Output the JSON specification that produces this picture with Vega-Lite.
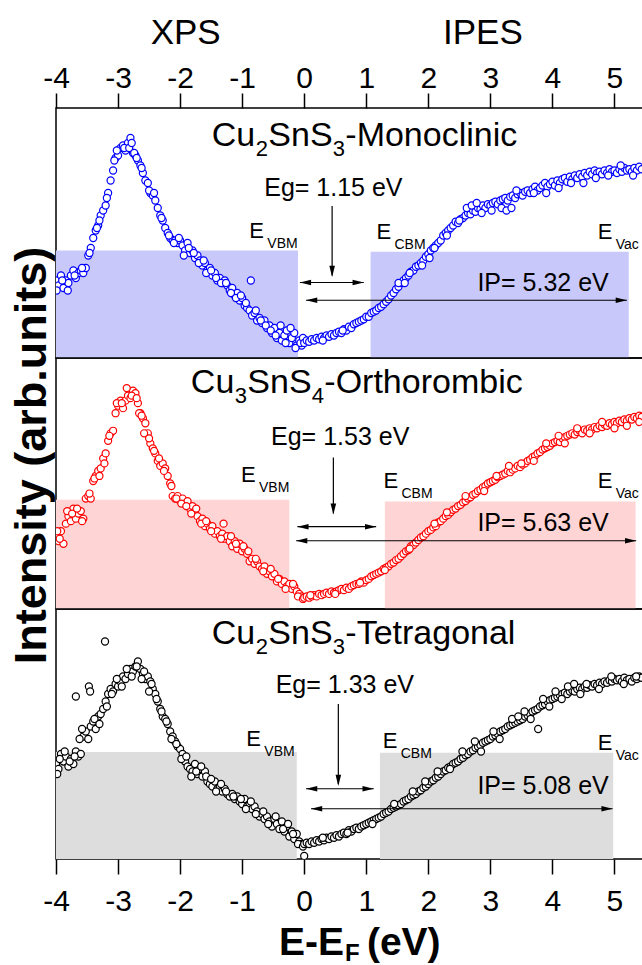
{
"$schema":"https://vega.github.io/schema/vega-lite/v6.json",
"padding":{"left":8,"top":15,"right":0,"bottom":0},
"spacing":0,
"bounds":"flush",
"config":{"font":"Liberation Sans","view":{"stroke":"black","strokeWidth":1.5},"axis":{"grid":false,"domain":false,"labelColor":"black","tickColor":"black","titleColor":"black","tickWidth":1.5},"text":{"color":"black"}},
"datasets":{
"rects":[{"p":1,"x":-4,"x2":-0.1,"y":0,"y2":0.43},{"p":1,"x":1.07,"x2":5.23,"y":0,"y2":0.425},{"p":2,"x":-4,"x2":-0.24,"y":0,"y2":0.435},{"p":2,"x":1.3,"x2":5.34,"y":0,"y2":0.428},{"p":3,"x":-4,"x2":-0.12,"y":0,"y2":0.428},{"p":3,"x":1.22,"x2":4.98,"y":0,"y2":0.425}],
"arrows":[{"p":1,"x":0.45,"x2":0.45,"y":0.608,"y2":0.33},{"p":1,"x":-0.07,"x2":0.96,"y":0.302,"y2":0.302},{"p":1,"x":0.03,"x2":5.2,"y":0.231,"y2":0.231},{"p":2,"x":0.47,"x2":0.47,"y":0.604,"y2":0.38},{"p":2,"x":-0.11,"x2":1.16,"y":0.328,"y2":0.328},{"p":2,"x":-0.13,"x2":5.35,"y":0.272,"y2":0.272},{"p":3,"x":0.55,"x2":0.55,"y":0.62,"y2":0.3},{"p":3,"x":0.03,"x2":1.12,"y":0.281,"y2":0.281},{"p":3,"x":0.11,"x2":4.97,"y":0.201,"y2":0.201}],
"heads":[{"p":1,"x":0.45,"y":0.324,"d":"D"},{"p":1,"x":-0.07,"y":0.302,"d":"L"},{"p":1,"x":0.96,"y":0.302,"d":"R"},{"p":1,"x":0.03,"y":0.231,"d":"L"},{"p":1,"x":5.2,"y":0.231,"d":"R"},{"p":2,"x":0.47,"y":0.376,"d":"D"},{"p":2,"x":-0.11,"y":0.328,"d":"L"},{"p":2,"x":1.16,"y":0.328,"d":"R"},{"p":2,"x":-0.13,"y":0.272,"d":"L"},{"p":2,"x":5.35,"y":0.272,"d":"R"},{"p":3,"x":0.55,"y":0.292,"d":"D"},{"p":3,"x":0.03,"y":0.281,"d":"L"},{"p":3,"x":1.12,"y":0.281,"d":"R"},{"p":3,"x":0.11,"y":0.201,"d":"L"},{"p":3,"x":4.97,"y":0.201,"d":"R"}],
"elab":[{"p":1,"x":-0.884,"y":0.481,"s":"VBM"},{"p":1,"x":1.165,"y":0.478,"s":"CBM"},{"p":1,"x":4.729,"y":0.478,"s":"Vac"},{"p":2,"x":-1.018,"y":0.505,"s":"VBM"},{"p":2,"x":1.277,"y":0.481,"s":"CBM"},{"p":2,"x":4.729,"y":0.481,"s":"Vac"},{"p":3,"x":-0.932,"y":0.452,"s":"VBM"},{"p":3,"x":1.266,"y":0.445,"s":"CBM"},{"p":3,"x":4.729,"y":0.436,"s":"Vac"}],
"ttl":[{"p":1,"x":-1.489,"y":0.848,"a":"Cu","s1":"2","b":"SnS","s2":"3","c":"-Monoclinic"},{"p":2,"x":-1.827,"y":0.859,"a":"Cu","s1":"3","b":"SnS","s2":"4","c":"-Orthorombic"},{"p":3,"x":-1.489,"y":0.859,"a":"Cu","s1":"2","b":"SnS","s2":"3","c":"-Tetragonal"}],
"txt":[{"p":1,"k":"n","x":0.47,"y":0.648,"t":"Eg= 1.15 eV"},{"p":1,"k":"n","x":3.85,"y":0.268,"t":"IP= 5.32 eV"},{"p":1,"k":"s","x":-1.91,"y":1.256,"t":"XPS"},{"p":1,"k":"s","x":2.88,"y":1.256,"t":"IPES"},{"p":2,"k":"n","x":0.58,"y":0.652,"t":"Eg= 1.53 eV"},{"p":2,"k":"n","x":3.85,"y":0.309,"t":"IP= 5.63 eV"},{"p":3,"k":"n","x":0.655,"y":0.665,"t":"Eg= 1.33 eV"},{"p":3,"k":"n","x":3.85,"y":0.261,"t":"IP= 5.08 eV"}],
"xt":[{"x":0.64,"y":-0.385}],
"b":[{"x":-4,"y":0.31},{"x":-3.96,"y":0.29},{"x":-3.92,"y":0.33},{"x":-3.88,"y":0.28},{"x":-3.84,"y":0.31},{"x":-3.8,"y":0.3},{"x":-3.76,"y":0.33},{"x":-3.72,"y":0.35},{"x":-3.68,"y":0.32},{"x":-3.64,"y":0.34},{"x":-3.6,"y":0.35},{"x":-3.56,"y":0.34},{"x":-3.52,"y":0.36},{"x":-3.48,"y":0.41},{"x":-3.44,"y":0.44},{"x":-3.4,"y":0.48},{"x":-3.36,"y":0.51},{"x":-3.32,"y":0.53},{"x":-3.28,"y":0.57},{"x":-3.24,"y":0.59},{"x":-3.2,"y":0.61},{"x":-3.16,"y":0.66},{"x":-3.12,"y":0.71},{"x":-3.08,"y":0.75},{"x":-3.04,"y":0.8},{"x":-3,"y":0.81},{"x":-2.96,"y":0.84},{"x":-2.92,"y":0.85},{"x":-2.88,"y":0.83},{"x":-2.84,"y":0.86},{"x":-2.8,"y":0.88},{"x":-2.76,"y":0.82},{"x":-2.72,"y":0.81},{"x":-2.68,"y":0.79},{"x":-2.64,"y":0.77},{"x":-2.6,"y":0.74},{"x":-2.56,"y":0.71},{"x":-2.52,"y":0.7},{"x":-2.48,"y":0.66},{"x":-2.44,"y":0.65},{"x":-2.4,"y":0.63},{"x":-2.36,"y":0.6},{"x":-2.32,"y":0.57},{"x":-2.28,"y":0.55},{"x":-2.24,"y":0.52},{"x":-2.2,"y":0.5},{"x":-2.16,"y":0.48},{"x":-2.12,"y":0.47},{"x":-2.08,"y":0.47},{"x":-2.04,"y":0.46},{"x":-2,"y":0.47},{"x":-1.96,"y":0.45},{"x":-1.92,"y":0.43},{"x":-1.88,"y":0.46},{"x":-1.84,"y":0.42},{"x":-1.8,"y":0.43},{"x":-1.76,"y":0.4},{"x":-1.72,"y":0.41},{"x":-1.68,"y":0.39},{"x":-1.64,"y":0.37},{"x":-1.6,"y":0.38},{"x":-1.56,"y":0.35},{"x":-1.52,"y":0.36},{"x":-1.48,"y":0.33},{"x":-1.44,"y":0.34},{"x":-1.4,"y":0.31},{"x":-1.36,"y":0.32},{"x":-1.32,"y":0.3},{"x":-1.28,"y":0.31},{"x":-1.24,"y":0.29},{"x":-1.2,"y":0.27},{"x":-1.16,"y":0.28},{"x":-1.12,"y":0.25},{"x":-1.08,"y":0.26},{"x":-1.04,"y":0.23},{"x":-1,"y":0.24},{"x":-0.96,"y":0.21},{"x":-0.92,"y":0.2},{"x":-0.88,"y":0.19},{"x":-0.84,"y":0.17},{"x":-0.8,"y":0.18},{"x":-0.76,"y":0.15},{"x":-0.72,"y":0.16},{"x":-0.68,"y":0.14},{"x":-0.64,"y":0.15},{"x":-0.6,"y":0.12},{"x":-0.56,"y":0.13},{"x":-0.52,"y":0.1},{"x":-0.48,"y":0.12},{"x":-0.44,"y":0.08},{"x":-0.4,"y":0.1},{"x":-0.36,"y":0.07},{"x":-0.32,"y":0.09},{"x":-0.28,"y":0.11},{"x":-0.24,"y":0.06},{"x":-0.2,"y":0.08},{"x":-0.16,"y":0.1},{"x":-0.12,"y":0.05},{"x":-0.08,"y":0.07},{"x":-0.04,"y":0.05},
{"x":-3.99,"y":0.27},{"x":-3.9,"y":0.31},{"x":-3.81,"y":0.27},{"x":-3.7,"y":0.33},{"x":-3.58,"y":0.36},{"x":-3.46,"y":0.42},{"x":-3.34,"y":0.52},{"x":-3.3,"y":0.55},{"x":-3.18,"y":0.64},{"x":-3.06,"y":0.79},{"x":-3.02,"y":0.83},{"x":-2.9,"y":0.84},{"x":-2.82,"y":0.84},{"x":-2.78,"y":0.86},{"x":-2.74,"y":0.82},{"x":-2.7,"y":0.8},{"x":-2.62,"y":0.76},{"x":-2.5,"y":0.67},{"x":-2.42,"y":0.66},{"x":-2.3,"y":0.56},{"x":-2.18,"y":0.49},{"x":-2.1,"y":0.46},{"x":-2.02,"y":0.48},{"x":-1.94,"y":0.41},{"x":-1.86,"y":0.44},{"x":-1.78,"y":0.42},{"x":-1.7,"y":0.38},{"x":-1.62,"y":0.39},{"x":-1.58,"y":0.34},{"x":-1.5,"y":0.35},{"x":-1.42,"y":0.32},{"x":-1.34,"y":0.3},{"x":-1.26,"y":0.3},{"x":-1.18,"y":0.26},{"x":-1.1,"y":0.24},{"x":-1.02,"y":0.25},{"x":-0.86,"y":0.31},{"x":-0.94,"y":0.22},{"x":-0.78,"y":0.19},{"x":-0.7,"y":0.15},{"x":-0.62,"y":0.13},{"x":-0.54,"y":0.11},{"x":-0.46,"y":0.09},{"x":-0.38,"y":0.13},{"x":-0.3,"y":0.06},{"x":-0.22,"y":0.12},{"x":-0.14,"y":0.04},{"x":-0.06,"y":0.06},{"x":-0.02,"y":0.08},
{"x":0,"y":0.06},{"x":0.04,"y":0.07},{"x":0.08,"y":0.065},{"x":0.12,"y":0.075},{"x":0.16,"y":0.07},{"x":0.2,"y":0.08},{"x":0.24,"y":0.075},{"x":0.28,"y":0.085},{"x":0.32,"y":0.08},{"x":0.36,"y":0.09},{"x":0.4,"y":0.085},{"x":0.44,"y":0.095},{"x":0.48,"y":0.09},{"x":0.52,"y":0.1},{"x":0.56,"y":0.105},{"x":0.6,"y":0.1},{"x":0.64,"y":0.115},{"x":0.68,"y":0.11},{"x":0.72,"y":0.125},{"x":0.76,"y":0.12},{"x":0.8,"y":0.135},{"x":0.84,"y":0.14},{"x":0.88,"y":0.145},{"x":0.92,"y":0.15},{"x":0.96,"y":0.155},{"x":1,"y":0.165},{"x":1.04,"y":0.165},{"x":1.08,"y":0.18},{"x":1.12,"y":0.185},{"x":1.16,"y":0.19},{"x":1.2,"y":0.2},{"x":1.24,"y":0.205},{"x":1.28,"y":0.215},{"x":1.32,"y":0.225},{"x":1.36,"y":0.235},{"x":1.4,"y":0.25},{"x":1.44,"y":0.26},{"x":1.48,"y":0.275},{"x":1.52,"y":0.285},{"x":1.56,"y":0.3},{"x":1.6,"y":0.31},{"x":1.64,"y":0.32},{"x":1.68,"y":0.33},{"x":1.72,"y":0.345},{"x":1.76,"y":0.35},{"x":1.8,"y":0.365},{"x":1.84,"y":0.37},{"x":1.88,"y":0.38},{"x":1.92,"y":0.39},{"x":1.96,"y":0.405},{"x":2,"y":0.415},{"x":2.04,"y":0.43},{"x":2.08,"y":0.44},{"x":2.12,"y":0.45},{"x":2.16,"y":0.46},{"x":2.2,"y":0.47},{"x":2.24,"y":0.49},{"x":2.28,"y":0.5},{"x":2.32,"y":0.51},{"x":2.36,"y":0.52},{"x":2.4,"y":0.53},{"x":2.44,"y":0.545},{"x":2.48,"y":0.54},{"x":2.52,"y":0.555},{"x":2.56,"y":0.56},{"x":2.6,"y":0.57},{"x":2.64,"y":0.58},{"x":2.68,"y":0.575},{"x":2.72,"y":0.59},{"x":2.76,"y":0.585},{"x":2.8,"y":0.6},{"x":2.84,"y":0.595},{"x":2.88,"y":0.61},{"x":2.92,"y":0.6},{"x":2.96,"y":0.615},{"x":3,"y":0.61},{"x":3.04,"y":0.62},{"x":3.08,"y":0.625},{"x":3.12,"y":0.615},{"x":3.16,"y":0.63},{"x":3.2,"y":0.635},{"x":3.24,"y":0.64},{"x":3.28,"y":0.63},{"x":3.32,"y":0.645},{"x":3.36,"y":0.65},{"x":3.4,"y":0.64},{"x":3.44,"y":0.655},{"x":3.48,"y":0.66},{"x":3.52,"y":0.65},{"x":3.56,"y":0.665},{"x":3.6,"y":0.67},{"x":3.64,"y":0.66},{"x":3.68,"y":0.675},{"x":3.72,"y":0.685},{"x":3.76,"y":0.67},{"x":3.8,"y":0.68},{"x":3.84,"y":0.69},{"x":3.88,"y":0.7},{"x":3.92,"y":0.685},{"x":3.96,"y":0.695},{"x":4,"y":0.705},{"x":4.04,"y":0.69},{"x":4.08,"y":0.71},{"x":4.12,"y":0.7},{"x":4.16,"y":0.715},{"x":4.2,"y":0.72},{"x":4.24,"y":0.705},{"x":4.28,"y":0.725},{"x":4.32,"y":0.715},{"x":4.36,"y":0.73},{"x":4.4,"y":0.72},{"x":4.44,"y":0.735},{"x":4.48,"y":0.725},{"x":4.52,"y":0.74},{"x":4.56,"y":0.73},{"x":4.6,"y":0.745},{"x":4.64,"y":0.735},{"x":4.68,"y":0.75},{"x":4.72,"y":0.74},{"x":4.76,"y":0.745},{"x":4.8,"y":0.735},{"x":4.84,"y":0.75},{"x":4.88,"y":0.74},{"x":4.92,"y":0.755},{"x":4.96,"y":0.745},{"x":5,"y":0.75},{"x":5.04,"y":0.74},{"x":5.08,"y":0.755},{"x":5.12,"y":0.745},{"x":5.16,"y":0.76},{"x":5.2,"y":0.75},{"x":5.24,"y":0.755},{"x":5.28,"y":0.745},{"x":5.32,"y":0.76},{"x":5.36,"y":0.75},{"x":5.4,"y":0.765},{"x":5.44,"y":0.755},
{"x":2.62,"y":0.6},{"x":2.7,"y":0.61},{"x":2.78,"y":0.62},{"x":2.86,"y":0.58},{"x":3.02,"y":0.59},{"x":3.18,"y":0.6},{"x":3.26,"y":0.59},{"x":3.34,"y":0.6},{"x":3.42,"y":0.67},{"x":3.7,"y":0.66},{"x":3.9,"y":0.66},{"x":4.1,"y":0.68},{"x":4.3,"y":0.7},{"x":4.5,"y":0.7},{"x":4.7,"y":0.72},{"x":4.9,"y":0.73},{"x":5.1,"y":0.77},{"x":5.3,"y":0.73},{"x":1.52,"y":0.3},{"x":1.62,"y":0.3},{"x":1.7,"y":0.34},{"x":1.9,"y":0.37},{"x":2.1,"y":0.44},{"x":2.3,"y":0.49},{"x":2.5,"y":0.55},{"x":2.02,"y":0.4},{"x":0.3,"y":0.07},{"x":0.62,"y":0.11}],
"r":[{"x":-4,"y":0.29},{"x":-3.96,"y":0.27},{"x":-3.92,"y":0.31},{"x":-3.88,"y":0.26},{"x":-3.84,"y":0.34},{"x":-3.8,"y":0.37},{"x":-3.76,"y":0.35},{"x":-3.72,"y":0.4},{"x":-3.68,"y":0.36},{"x":-3.64,"y":0.38},{"x":-3.6,"y":0.39},{"x":-3.56,"y":0.36},{"x":-3.52,"y":0.44},{"x":-3.48,"y":0.45},{"x":-3.44,"y":0.44},{"x":-3.4,"y":0.51},{"x":-3.36,"y":0.53},{"x":-3.32,"y":0.55},{"x":-3.28,"y":0.56},{"x":-3.24,"y":0.6},{"x":-3.2,"y":0.62},{"x":-3.16,"y":0.67},{"x":-3.12,"y":0.7},{"x":-3.08,"y":0.71},{"x":-3.04,"y":0.78},{"x":-3,"y":0.81},{"x":-2.96,"y":0.83},{"x":-2.92,"y":0.8},{"x":-2.88,"y":0.83},{"x":-2.84,"y":0.85},{"x":-2.8,"y":0.84},{"x":-2.76,"y":0.87},{"x":-2.72,"y":0.86},{"x":-2.68,"y":0.82},{"x":-2.64,"y":0.78},{"x":-2.6,"y":0.76},{"x":-2.56,"y":0.74},{"x":-2.52,"y":0.7},{"x":-2.48,"y":0.66},{"x":-2.44,"y":0.64},{"x":-2.4,"y":0.62},{"x":-2.36,"y":0.59},{"x":-2.32,"y":0.57},{"x":-2.28,"y":0.58},{"x":-2.24,"y":0.56},{"x":-2.2,"y":0.53},{"x":-2.16,"y":0.5},{"x":-2.12,"y":0.45},{"x":-2.08,"y":0.44},{"x":-2.04,"y":0.45},{"x":-2,"y":0.43},{"x":-1.96,"y":0.44},{"x":-1.92,"y":0.42},{"x":-1.88,"y":0.43},{"x":-1.84,"y":0.4},{"x":-1.8,"y":0.41},{"x":-1.76,"y":0.39},{"x":-1.72,"y":0.37},{"x":-1.68,"y":0.35},{"x":-1.64,"y":0.36},{"x":-1.6,"y":0.33},{"x":-1.56,"y":0.34},{"x":-1.52,"y":0.32},{"x":-1.48,"y":0.33},{"x":-1.44,"y":0.3},{"x":-1.4,"y":0.31},{"x":-1.36,"y":0.29},{"x":-1.32,"y":0.3},{"x":-1.28,"y":0.28},{"x":-1.24,"y":0.29},{"x":-1.2,"y":0.27},{"x":-1.16,"y":0.25},{"x":-1.12,"y":0.27},{"x":-1.08,"y":0.24},{"x":-1.04,"y":0.26},{"x":-1,"y":0.23},{"x":-0.96,"y":0.24},{"x":-0.92,"y":0.22},{"x":-0.88,"y":0.19},{"x":-0.84,"y":0.2},{"x":-0.8,"y":0.18},{"x":-0.76,"y":0.19},{"x":-0.72,"y":0.17},{"x":-0.68,"y":0.16},{"x":-0.64,"y":0.17},{"x":-0.6,"y":0.14},{"x":-0.56,"y":0.15},{"x":-0.52,"y":0.13},{"x":-0.48,"y":0.14},{"x":-0.44,"y":0.11},{"x":-0.4,"y":0.12},{"x":-0.36,"y":0.1},{"x":-0.32,"y":0.11},{"x":-0.28,"y":0.09},{"x":-0.24,"y":0.1},{"x":-0.2,"y":0.08},{"x":-0.16,"y":0.09},{"x":-0.12,"y":0.07},{"x":-0.08,"y":0.06},{"x":-0.04,"y":0.05},
{"x":-3.98,"y":0.31},{"x":-3.94,"y":0.28},{"x":-3.82,"y":0.39},{"x":-3.74,"y":0.38},{"x":-3.66,"y":0.4},{"x":-3.58,"y":0.35},{"x":-3.46,"y":0.46},{"x":-3.38,"y":0.52},{"x":-3.3,"y":0.53},{"x":-3.22,"y":0.58},{"x":-3.14,"y":0.69},{"x":-3.02,"y":0.82},{"x":-2.94,"y":0.82},{"x":-2.86,"y":0.88},{"x":-2.78,"y":0.85},{"x":-2.7,"y":0.84},{"x":-2.66,"y":0.78},{"x":-2.62,"y":0.77},{"x":-2.58,"y":0.7},{"x":-2.5,"y":0.68},{"x":-2.42,"y":0.63},{"x":-2.34,"y":0.6},{"x":-2.26,"y":0.55},{"x":-2.14,"y":0.49},{"x":-2.06,"y":0.44},{"x":-1.98,"y":0.42},{"x":-1.9,"y":0.41},{"x":-1.82,"y":0.38},{"x":-1.74,"y":0.4},{"x":-1.66,"y":0.34},{"x":-1.58,"y":0.35},{"x":-1.5,"y":0.31},{"x":-1.34,"y":0.28},{"x":-1.3,"y":0.34},{"x":-1.18,"y":0.29},{"x":-1.1,"y":0.26},{"x":-0.98,"y":0.25},{"x":-0.9,"y":0.23},{"x":-0.78,"y":0.2},{"x":-0.66,"y":0.15},{"x":-0.54,"y":0.16},{"x":-0.42,"y":0.12},{"x":-0.3,"y":0.08},{"x":-0.18,"y":0.1},{"x":-0.1,"y":0.05},{"x":-0.02,"y":0.04},
{"x":0,"y":0.045},{"x":0.04,"y":0.05},{"x":0.08,"y":0.045},{"x":0.12,"y":0.05},{"x":0.16,"y":0.055},{"x":0.2,"y":0.05},{"x":0.24,"y":0.06},{"x":0.28,"y":0.055},{"x":0.32,"y":0.06},{"x":0.36,"y":0.065},{"x":0.4,"y":0.06},{"x":0.44,"y":0.07},{"x":0.48,"y":0.065},{"x":0.52,"y":0.07},{"x":0.56,"y":0.075},{"x":0.6,"y":0.08},{"x":0.64,"y":0.075},{"x":0.68,"y":0.085},{"x":0.72,"y":0.08},{"x":0.76,"y":0.09},{"x":0.8,"y":0.095},{"x":0.84,"y":0.1},{"x":0.88,"y":0.1},{"x":0.92,"y":0.11},{"x":0.96,"y":0.105},{"x":1,"y":0.115},{"x":1.04,"y":0.12},{"x":1.08,"y":0.13},{"x":1.12,"y":0.135},{"x":1.16,"y":0.14},{"x":1.2,"y":0.145},{"x":1.24,"y":0.15},{"x":1.28,"y":0.16},{"x":1.32,"y":0.165},{"x":1.36,"y":0.17},{"x":1.4,"y":0.18},{"x":1.44,"y":0.185},{"x":1.48,"y":0.195},{"x":1.52,"y":0.2},{"x":1.56,"y":0.21},{"x":1.6,"y":0.22},{"x":1.64,"y":0.23},{"x":1.68,"y":0.235},{"x":1.72,"y":0.25},{"x":1.76,"y":0.255},{"x":1.8,"y":0.265},{"x":1.84,"y":0.275},{"x":1.88,"y":0.285},{"x":1.92,"y":0.29},{"x":1.96,"y":0.3},{"x":2,"y":0.31},{"x":2.04,"y":0.315},{"x":2.08,"y":0.325},{"x":2.12,"y":0.33},{"x":2.16,"y":0.345},{"x":2.2,"y":0.35},{"x":2.24,"y":0.36},{"x":2.28,"y":0.37},{"x":2.32,"y":0.375},{"x":2.36,"y":0.385},{"x":2.4,"y":0.395},{"x":2.44,"y":0.4},{"x":2.48,"y":0.41},{"x":2.52,"y":0.415},{"x":2.56,"y":0.425},{"x":2.6,"y":0.43},{"x":2.64,"y":0.44},{"x":2.68,"y":0.445},{"x":2.72,"y":0.455},{"x":2.76,"y":0.46},{"x":2.8,"y":0.47},{"x":2.84,"y":0.475},{"x":2.88,"y":0.485},{"x":2.92,"y":0.49},{"x":2.96,"y":0.5},{"x":3,"y":0.505},{"x":3.04,"y":0.51},{"x":3.08,"y":0.515},{"x":3.12,"y":0.525},{"x":3.16,"y":0.53},{"x":3.2,"y":0.535},{"x":3.24,"y":0.54},{"x":3.28,"y":0.55},{"x":3.32,"y":0.545},{"x":3.36,"y":0.555},{"x":3.4,"y":0.56},{"x":3.44,"y":0.57},{"x":3.48,"y":0.565},{"x":3.52,"y":0.575},{"x":3.56,"y":0.58},{"x":3.6,"y":0.59},{"x":3.64,"y":0.595},{"x":3.68,"y":0.605},{"x":3.72,"y":0.61},{"x":3.76,"y":0.62},{"x":3.8,"y":0.625},{"x":3.84,"y":0.635},{"x":3.88,"y":0.64},{"x":3.92,"y":0.645},{"x":3.96,"y":0.65},{"x":4,"y":0.66},{"x":4.04,"y":0.665},{"x":4.08,"y":0.67},{"x":4.12,"y":0.665},{"x":4.16,"y":0.68},{"x":4.2,"y":0.685},{"x":4.24,"y":0.69},{"x":4.28,"y":0.695},{"x":4.32,"y":0.7},{"x":4.36,"y":0.695},{"x":4.4,"y":0.705},{"x":4.44,"y":0.71},{"x":4.48,"y":0.7},{"x":4.52,"y":0.715},{"x":4.56,"y":0.71},{"x":4.6,"y":0.72},{"x":4.64,"y":0.715},{"x":4.68,"y":0.725},{"x":4.72,"y":0.72},{"x":4.76,"y":0.73},{"x":4.8,"y":0.725},{"x":4.84,"y":0.735},{"x":4.88,"y":0.73},{"x":4.92,"y":0.74},{"x":4.96,"y":0.735},{"x":5,"y":0.745},{"x":5.04,"y":0.74},{"x":5.08,"y":0.75},{"x":5.12,"y":0.745},{"x":5.16,"y":0.755},{"x":5.2,"y":0.75},{"x":5.24,"y":0.76},{"x":5.28,"y":0.755},{"x":5.32,"y":0.765},{"x":5.36,"y":0.76},{"x":5.4,"y":0.77},{"x":5.44,"y":0.765},
{"x":2.6,"y":0.45},{"x":2.9,"y":0.47},{"x":3.1,"y":0.53},{"x":3.3,"y":0.57},{"x":3.5,"y":0.58},{"x":3.7,"y":0.59},{"x":3.9,"y":0.66},{"x":4.1,"y":0.69},{"x":4.2,"y":0.66},{"x":4.4,"y":0.72},{"x":4.6,"y":0.7},{"x":4.8,"y":0.745},{"x":5,"y":0.72},{"x":5.2,"y":0.73},{"x":5.4,"y":0.745},{"x":1.7,"y":0.24},{"x":2.1,"y":0.34},{"x":2.3,"y":0.385},{"x":1.3,"y":0.155},{"x":0.9,"y":0.105},{"x":0.5,"y":0.06},{"x":0.1,"y":0.055}],
"k":[{"x":-4,"y":0.38},{"x":-3.96,"y":0.36},{"x":-3.92,"y":0.42},{"x":-3.88,"y":0.39},{"x":-3.84,"y":0.41},{"x":-3.8,"y":0.37},{"x":-3.76,"y":0.4},{"x":-3.72,"y":0.38},{"x":-3.68,"y":0.43},{"x":-3.64,"y":0.41},{"x":-3.6,"y":0.42},{"x":-3.56,"y":0.49},{"x":-3.52,"y":0.51},{"x":-3.48,"y":0.48},{"x":-3.44,"y":0.53},{"x":-3.4,"y":0.55},{"x":-3.36,"y":0.52},{"x":-3.32,"y":0.57},{"x":-3.28,"y":0.58},{"x":-3.24,"y":0.6},{"x":-3.2,"y":0.63},{"x":-3.16,"y":0.66},{"x":-3.12,"y":0.68},{"x":-3.08,"y":0.67},{"x":-3.04,"y":0.7},{"x":-3,"y":0.69},{"x":-2.96,"y":0.71},{"x":-2.92,"y":0.73},{"x":-2.88,"y":0.72},{"x":-2.84,"y":0.74},{"x":-2.8,"y":0.76},{"x":-2.76,"y":0.75},{"x":-2.72,"y":0.77},{"x":-2.68,"y":0.79},{"x":-2.64,"y":0.76},{"x":-2.6,"y":0.74},{"x":-2.56,"y":0.72},{"x":-2.52,"y":0.73},{"x":-2.48,"y":0.71},{"x":-2.44,"y":0.68},{"x":-2.4,"y":0.66},{"x":-2.36,"y":0.63},{"x":-2.32,"y":0.6},{"x":-2.28,"y":0.57},{"x":-2.24,"y":0.56},{"x":-2.2,"y":0.54},{"x":-2.16,"y":0.51},{"x":-2.12,"y":0.49},{"x":-2.08,"y":0.47},{"x":-2.04,"y":0.45},{"x":-2,"y":0.44},{"x":-1.96,"y":0.42},{"x":-1.92,"y":0.39},{"x":-1.88,"y":0.37},{"x":-1.84,"y":0.36},{"x":-1.8,"y":0.35},{"x":-1.76,"y":0.38},{"x":-1.72,"y":0.34},{"x":-1.68,"y":0.36},{"x":-1.64,"y":0.33},{"x":-1.6,"y":0.35},{"x":-1.56,"y":0.31},{"x":-1.52,"y":0.3},{"x":-1.48,"y":0.29},{"x":-1.44,"y":0.31},{"x":-1.4,"y":0.28},{"x":-1.36,"y":0.29},{"x":-1.32,"y":0.27},{"x":-1.28,"y":0.28},{"x":-1.24,"y":0.26},{"x":-1.2,"y":0.25},{"x":-1.16,"y":0.26},{"x":-1.12,"y":0.24},{"x":-1.08,"y":0.25},{"x":-1.04,"y":0.23},{"x":-1,"y":0.22},{"x":-0.96,"y":0.24},{"x":-0.92,"y":0.21},{"x":-0.88,"y":0.22},{"x":-0.84,"y":0.2},{"x":-0.8,"y":0.21},{"x":-0.76,"y":0.19},{"x":-0.72,"y":0.17},{"x":-0.68,"y":0.18},{"x":-0.64,"y":0.16},{"x":-0.6,"y":0.17},{"x":-0.56,"y":0.15},{"x":-0.52,"y":0.13},{"x":-0.48,"y":0.16},{"x":-0.44,"y":0.14},{"x":-0.4,"y":0.12},{"x":-0.36,"y":0.15},{"x":-0.32,"y":0.11},{"x":-0.28,"y":0.13},{"x":-0.24,"y":0.09},{"x":-0.2,"y":0.11},{"x":-0.16,"y":0.08},{"x":-0.12,"y":0.1},{"x":-0.08,"y":0.07},{"x":-0.04,"y":0.06},
{"x":-3.98,"y":0.34},{"x":-3.94,"y":0.4},{"x":-3.86,"y":0.43},{"x":-3.78,"y":0.39},{"x":-3.7,"y":0.41},{"x":-3.68,"y":0.65},{"x":-3.62,"y":0.48},{"x":-3.58,"y":0.52},{"x":-3.47,"y":0.69},{"x":-3.45,"y":0.67},{"x":-3.38,"y":0.56},{"x":-3.3,"y":0.54},{"x":-3.21,"y":0.87},{"x":-3.18,"y":0.61},{"x":-3.1,"y":0.66},{"x":-3.02,"y":0.72},{"x":-2.94,"y":0.69},{"x":-2.86,"y":0.76},{"x":-2.78,"y":0.73},{"x":-2.7,"y":0.77},{"x":-2.62,"y":0.72},{"x":-2.58,"y":0.75},{"x":-2.5,"y":0.67},{"x":-2.46,"y":0.7},{"x":-2.38,"y":0.64},{"x":-2.3,"y":0.59},{"x":-2.22,"y":0.55},{"x":-2.14,"y":0.48},{"x":-2.06,"y":0.46},{"x":-1.98,"y":0.4},{"x":-1.9,"y":0.41},{"x":-1.82,"y":0.33},{"x":-1.74,"y":0.35},{"x":-1.66,"y":0.37},{"x":-1.58,"y":0.33},{"x":-1.5,"y":0.32},{"x":-1.42,"y":0.27},{"x":-1.34,"y":0.3},{"x":-1.26,"y":0.27},{"x":-1.14,"y":0.25},{"x":-1.02,"y":0.24},{"x":-0.94,"y":0.2},{"x":-0.86,"y":0.23},{"x":-0.78,"y":0.18},{"x":-0.66,"y":0.19},{"x":-0.58,"y":0.14},{"x":-0.46,"y":0.17},{"x":-0.34,"y":0.12},{"x":-0.26,"y":0.14},{"x":-0.18,"y":0.1},{"x":-0.1,"y":0.06},{"x":-0.02,"y":0.05},{"x":0,"y":0.012},
{"x":0,"y":0.06},{"x":0.04,"y":0.065},{"x":0.08,"y":0.06},{"x":0.12,"y":0.07},{"x":0.16,"y":0.065},{"x":0.2,"y":0.075},{"x":0.24,"y":0.07},{"x":0.28,"y":0.08},{"x":0.32,"y":0.075},{"x":0.36,"y":0.085},{"x":0.4,"y":0.08},{"x":0.44,"y":0.09},{"x":0.48,"y":0.085},{"x":0.52,"y":0.095},{"x":0.56,"y":0.09},{"x":0.6,"y":0.1},{"x":0.64,"y":0.105},{"x":0.68,"y":0.1},{"x":0.72,"y":0.115},{"x":0.76,"y":0.11},{"x":0.8,"y":0.12},{"x":0.84,"y":0.125},{"x":0.88,"y":0.12},{"x":0.92,"y":0.13},{"x":0.96,"y":0.135},{"x":1,"y":0.14},{"x":1.04,"y":0.145},{"x":1.08,"y":0.15},{"x":1.12,"y":0.155},{"x":1.16,"y":0.16},{"x":1.2,"y":0.165},{"x":1.24,"y":0.17},{"x":1.28,"y":0.18},{"x":1.32,"y":0.185},{"x":1.36,"y":0.19},{"x":1.4,"y":0.2},{"x":1.44,"y":0.205},{"x":1.48,"y":0.21},{"x":1.52,"y":0.215},{"x":1.56,"y":0.22},{"x":1.6,"y":0.23},{"x":1.64,"y":0.235},{"x":1.68,"y":0.24},{"x":1.72,"y":0.25},{"x":1.76,"y":0.255},{"x":1.8,"y":0.26},{"x":1.84,"y":0.27},{"x":1.88,"y":0.275},{"x":1.92,"y":0.285},{"x":1.96,"y":0.29},{"x":2,"y":0.3},{"x":2.04,"y":0.31},{"x":2.08,"y":0.315},{"x":2.12,"y":0.325},{"x":2.16,"y":0.33},{"x":2.2,"y":0.34},{"x":2.24,"y":0.35},{"x":2.28,"y":0.355},{"x":2.32,"y":0.365},{"x":2.36,"y":0.37},{"x":2.4,"y":0.38},{"x":2.44,"y":0.385},{"x":2.48,"y":0.39},{"x":2.52,"y":0.4},{"x":2.56,"y":0.405},{"x":2.6,"y":0.415},{"x":2.64,"y":0.42},{"x":2.68,"y":0.43},{"x":2.72,"y":0.435},{"x":2.76,"y":0.445},{"x":2.8,"y":0.45},{"x":2.84,"y":0.455},{"x":2.88,"y":0.465},{"x":2.92,"y":0.47},{"x":2.96,"y":0.475},{"x":3,"y":0.48},{"x":3.04,"y":0.49},{"x":3.08,"y":0.495},{"x":3.12,"y":0.5},{"x":3.16,"y":0.51},{"x":3.2,"y":0.515},{"x":3.24,"y":0.52},{"x":3.28,"y":0.53},{"x":3.32,"y":0.535},{"x":3.36,"y":0.54},{"x":3.4,"y":0.545},{"x":3.44,"y":0.55},{"x":3.48,"y":0.555},{"x":3.52,"y":0.56},{"x":3.56,"y":0.57},{"x":3.6,"y":0.575},{"x":3.64,"y":0.58},{"x":3.68,"y":0.59},{"x":3.72,"y":0.595},{"x":3.76,"y":0.6},{"x":3.8,"y":0.61},{"x":3.84,"y":0.615},{"x":3.88,"y":0.62},{"x":3.92,"y":0.63},{"x":3.96,"y":0.635},{"x":4,"y":0.64},{"x":4.04,"y":0.645},{"x":4.08,"y":0.65},{"x":4.12,"y":0.655},{"x":4.16,"y":0.66},{"x":4.2,"y":0.665},{"x":4.24,"y":0.66},{"x":4.28,"y":0.67},{"x":4.32,"y":0.675},{"x":4.36,"y":0.67},{"x":4.4,"y":0.68},{"x":4.44,"y":0.685},{"x":4.48,"y":0.68},{"x":4.52,"y":0.69},{"x":4.56,"y":0.685},{"x":4.6,"y":0.695},{"x":4.64,"y":0.69},{"x":4.68,"y":0.7},{"x":4.72,"y":0.695},{"x":4.76,"y":0.705},{"x":4.8,"y":0.7},{"x":4.84,"y":0.71},{"x":4.88,"y":0.705},{"x":4.92,"y":0.715},{"x":4.96,"y":0.71},{"x":5,"y":0.72},{"x":5.04,"y":0.715},{"x":5.08,"y":0.72},{"x":5.12,"y":0.71},{"x":5.16,"y":0.725},{"x":5.2,"y":0.715},{"x":5.24,"y":0.72},{"x":5.28,"y":0.71},{"x":5.32,"y":0.725},{"x":5.36,"y":0.72},{"x":5.4,"y":0.73},{"x":5.44,"y":0.725},
{"x":1.45,"y":0.22},{"x":1.75,"y":0.27},{"x":1.95,"y":0.31},{"x":2.15,"y":0.35},{"x":2.35,"y":0.36},{"x":2.55,"y":0.43},{"x":2.75,"y":0.47},{"x":2.85,"y":0.43},{"x":3.05,"y":0.51},{"x":3.15,"y":0.48},{"x":3.35,"y":0.56},{"x":3.45,"y":0.57},{"x":3.55,"y":0.59},{"x":3.65,"y":0.56},{"x":3.77,"y":0.52},{"x":3.85,"y":0.64},{"x":3.95,"y":0.61},{"x":4.05,"y":0.67},{"x":4.15,"y":0.64},{"x":4.25,"y":0.69},{"x":4.35,"y":0.7},{"x":4.45,"y":0.66},{"x":4.55,"y":0.7},{"x":4.75,"y":0.68},{"x":4.95,"y":0.73},{"x":5.15,"y":0.7},{"x":5.35,"y":0.73},{"x":0.3,"y":0.085},{"x":0.7,"y":0.105},{"x":1.1,"y":0.14}]
},
"vconcat":[
{"width":587,"height":250,"layer":[
{"data":{"name":"rects"},"transform":[{"filter":"datum.p==1"}],"mark":{"type":"rect","color":"#c8c8fa"},"encoding":{"x":{"field":"x","type":"quantitative","scale":{"domain":[-4,5.46],"nice":false,"zero":false},"axis":{"orient":"top","values":[-4,-3.5,-3,-2.5,-2,-1.5,-1,-0.5,0,0.5,1,1.5,2,2.5,3,3.5,4,4.5,5],"labelExpr":"datum.value % 1 === 0 ? '' + datum.value : ''","tickSize":{"condition":{"test":"datum.value % 1 !== 0","value":8},"value":15},"labelFontSize":30,"labelPadding":0,"labelFlush":false,"labelOverlap":false,"labelBound":false,"title":null}},"x2":{"field":"x2"},"y":{"field":"y","type":"quantitative","scale":{"domain":[0,1],"nice":false,"zero":false},"axis":null},"y2":{"field":"y2"}}},
{"data":{"name":"b"},"mark":{"type":"point","shape":"circle","filled":true,"fill":"white","stroke":"#0000ff","strokeWidth":1.2,"size":50,"opacity":1,"clip":true},"encoding":{"x":{"field":"x","type":"quantitative"},"y":{"field":"y","type":"quantitative"}}},
{"data":{"name":"arrows"},"transform":[{"filter":"datum.p==1"}],"mark":{"type":"rule","color":"black","strokeWidth":1.2},"encoding":{"x":{"field":"x","type":"quantitative"},"x2":{"field":"x2"},"y":{"field":"y","type":"quantitative"},"y2":{"field":"y2"}}},
{"data":{"name":"heads"},"transform":[{"filter":"datum.p==1"}],"mark":{"type":"point","filled":true,"color":"black","opacity":1,"size":500,"strokeWidth":0},"encoding":{"x":{"field":"x","type":"quantitative"},"y":{"field":"y","type":"quantitative"},"shape":{"field":"d","type":"nominal","scale":{"domain":["L","R","D"],"range":["M0,0L1,-0.25L1,0.25Z","M0,0L-1,-0.25L-1,0.25Z","M0,0L-0.25,-1L0.25,-1Z"]},"legend":null}}},
{"data":{"name":"elab"},"transform":[{"filter":"datum.p==1"}],"mark":{"type":"text","text":"E","fontSize":22,"align":"left","baseline":"alphabetic"},"encoding":{"x":{"field":"x","type":"quantitative"},"y":{"field":"y","type":"quantitative"}}},
{"data":{"name":"elab"},"transform":[{"filter":"datum.p==1"}],"mark":{"type":"text","fontSize":14,"align":"left","baseline":"alphabetic","dx":18,"dy":10},"encoding":{"x":{"field":"x","type":"quantitative"},"y":{"field":"y","type":"quantitative"},"text":{"field":"s"}}},
{"data":{"name":"txt"},"transform":[{"filter":"datum.p==1 && datum.k=='n'"}],"mark":{"type":"text","fontSize":25,"align":"center","baseline":"alphabetic"},"encoding":{"x":{"field":"x","type":"quantitative"},"y":{"field":"y","type":"quantitative"},"text":{"field":"t"}}},
{"data":{"name":"txt"},"transform":[{"filter":"datum.p==1 && datum.k=='s'"}],"mark":{"type":"text","fontSize":35,"align":"center","baseline":"alphabetic"},"encoding":{"x":{"field":"x","type":"quantitative"},"y":{"field":"y","type":"quantitative"},"text":{"field":"t"}}},
{"data":{"name":"ttl"},"transform":[{"filter":"datum.p==1"}],"mark":{"type":"text","fontSize":34,"align":"left","baseline":"alphabetic"},"encoding":{"x":{"field":"x","type":"quantitative"},"y":{"field":"y","type":"quantitative"},"text":{"field":"a"}}},
{"data":{"name":"ttl"},"transform":[{"filter":"datum.p==1"}],"mark":{"type":"text","fontSize":22,"align":"left","baseline":"alphabetic","dx":44,"dy":10},"encoding":{"x":{"field":"x","type":"quantitative"},"y":{"field":"y","type":"quantitative"},"text":{"field":"s1"}}},
{"data":{"name":"ttl"},"transform":[{"filter":"datum.p==1"}],"mark":{"type":"text","fontSize":34,"align":"left","baseline":"alphabetic","dx":56.5},"encoding":{"x":{"field":"x","type":"quantitative"},"y":{"field":"y","type":"quantitative"},"text":{"field":"b"}}},
{"data":{"name":"ttl"},"transform":[{"filter":"datum.p==1"}],"mark":{"type":"text","fontSize":22,"align":"left","baseline":"alphabetic","dx":121,"dy":10},"encoding":{"x":{"field":"x","type":"quantitative"},"y":{"field":"y","type":"quantitative"},"text":{"field":"s2"}}},
{"data":{"name":"ttl"},"transform":[{"filter":"datum.p==1"}],"mark":{"type":"text","fontSize":34,"align":"left","baseline":"alphabetic","dx":133.5},"encoding":{"x":{"field":"x","type":"quantitative"},"y":{"field":"y","type":"quantitative"},"text":{"field":"c"}}}
]},
{"width":587,"height":251,"layer":[
{"data":{"name":"rects"},"transform":[{"filter":"datum.p==2"}],"mark":{"type":"rect","color":"#ffd4d4"},"encoding":{"x":{"field":"x","type":"quantitative","scale":{"domain":[-4,5.46],"nice":false,"zero":false},"axis":null},"x2":{"field":"x2"},"y":{"field":"y","type":"quantitative","scale":{"domain":[0,1],"nice":false,"zero":false},"axis":{"title":"Intensity (arb.units)","titleFontSize":45,"titleFontWeight":"bold","labels":false,"ticks":false,"titlePadding":2,"titleY":97,"titleAngle":-90,"titleAlign":"center","titleBaseline":"bottom"}},"y2":{"field":"y2"}}},
{"data":{"name":"r"},"mark":{"type":"point","shape":"circle","filled":true,"fill":"white","stroke":"#ff0000","strokeWidth":1.2,"size":50,"opacity":1,"clip":true},"encoding":{"x":{"field":"x","type":"quantitative"},"y":{"field":"y","type":"quantitative"}}},
{"data":{"name":"arrows"},"transform":[{"filter":"datum.p==2"}],"mark":{"type":"rule","color":"black","strokeWidth":1.2},"encoding":{"x":{"field":"x","type":"quantitative"},"x2":{"field":"x2"},"y":{"field":"y","type":"quantitative"},"y2":{"field":"y2"}}},
{"data":{"name":"heads"},"transform":[{"filter":"datum.p==2"}],"mark":{"type":"point","filled":true,"color":"black","opacity":1,"size":500,"strokeWidth":0},"encoding":{"x":{"field":"x","type":"quantitative"},"y":{"field":"y","type":"quantitative"},"shape":{"field":"d","type":"nominal","scale":{"domain":["L","R","D"],"range":["M0,0L1,-0.25L1,0.25Z","M0,0L-1,-0.25L-1,0.25Z","M0,0L-0.25,-1L0.25,-1Z"]},"legend":null}}},
{"data":{"name":"elab"},"transform":[{"filter":"datum.p==2"}],"mark":{"type":"text","text":"E","fontSize":22,"align":"left","baseline":"alphabetic"},"encoding":{"x":{"field":"x","type":"quantitative"},"y":{"field":"y","type":"quantitative"}}},
{"data":{"name":"elab"},"transform":[{"filter":"datum.p==2"}],"mark":{"type":"text","fontSize":14,"align":"left","baseline":"alphabetic","dx":18,"dy":10},"encoding":{"x":{"field":"x","type":"quantitative"},"y":{"field":"y","type":"quantitative"},"text":{"field":"s"}}},
{"data":{"name":"txt"},"transform":[{"filter":"datum.p==2 && datum.k=='n'"}],"mark":{"type":"text","fontSize":25,"align":"center","baseline":"alphabetic"},"encoding":{"x":{"field":"x","type":"quantitative"},"y":{"field":"y","type":"quantitative"},"text":{"field":"t"}}},
{"data":{"name":"ttl"},"transform":[{"filter":"datum.p==2"}],"mark":{"type":"text","fontSize":34,"align":"left","baseline":"alphabetic"},"encoding":{"x":{"field":"x","type":"quantitative"},"y":{"field":"y","type":"quantitative"},"text":{"field":"a"}}},
{"data":{"name":"ttl"},"transform":[{"filter":"datum.p==2"}],"mark":{"type":"text","fontSize":22,"align":"left","baseline":"alphabetic","dx":44,"dy":10},"encoding":{"x":{"field":"x","type":"quantitative"},"y":{"field":"y","type":"quantitative"},"text":{"field":"s1"}}},
{"data":{"name":"ttl"},"transform":[{"filter":"datum.p==2"}],"mark":{"type":"text","fontSize":34,"align":"left","baseline":"alphabetic","dx":56.5},"encoding":{"x":{"field":"x","type":"quantitative"},"y":{"field":"y","type":"quantitative"},"text":{"field":"b"}}},
{"data":{"name":"ttl"},"transform":[{"filter":"datum.p==2"}],"mark":{"type":"text","fontSize":22,"align":"left","baseline":"alphabetic","dx":121,"dy":10},"encoding":{"x":{"field":"x","type":"quantitative"},"y":{"field":"y","type":"quantitative"},"text":{"field":"s2"}}},
{"data":{"name":"ttl"},"transform":[{"filter":"datum.p==2"}],"mark":{"type":"text","fontSize":34,"align":"left","baseline":"alphabetic","dx":133.5},"encoding":{"x":{"field":"x","type":"quantitative"},"y":{"field":"y","type":"quantitative"},"text":{"field":"c"}}}
]},
{"width":587,"height":250,"layer":[
{"data":{"name":"rects"},"transform":[{"filter":"datum.p==3"}],"mark":{"type":"rect","color":"#dddddd"},"encoding":{"x":{"field":"x","type":"quantitative","scale":{"domain":[-4,5.46],"nice":false,"zero":false},"axis":{"orient":"bottom","values":[-4,-3.5,-3,-2.5,-2,-1.5,-1,-0.5,0,0.5,1,1.5,2,2.5,3,3.5,4,4.5,5],"labelExpr":"datum.value % 1 === 0 ? '' + datum.value : ''","tickSize":{"condition":{"test":"datum.value % 1 !== 0","value":8},"value":15},"labelFontSize":30,"labelPadding":12,"labelFlush":false,"labelOverlap":false,"labelBound":false,"title":null}},"x2":{"field":"x2"},"y":{"field":"y","type":"quantitative","scale":{"domain":[0,1],"nice":false,"zero":false},"axis":null},"y2":{"field":"y2"}}},
{"data":{"name":"k"},"mark":{"type":"point","shape":"circle","filled":true,"fill":"white","stroke":"#000000","strokeWidth":1.2,"size":50,"opacity":1,"clip":true},"encoding":{"x":{"field":"x","type":"quantitative"},"y":{"field":"y","type":"quantitative"}}},
{"data":{"name":"arrows"},"transform":[{"filter":"datum.p==3"}],"mark":{"type":"rule","color":"black","strokeWidth":1.2},"encoding":{"x":{"field":"x","type":"quantitative"},"x2":{"field":"x2"},"y":{"field":"y","type":"quantitative"},"y2":{"field":"y2"}}},
{"data":{"name":"heads"},"transform":[{"filter":"datum.p==3"}],"mark":{"type":"point","filled":true,"color":"black","opacity":1,"size":500,"strokeWidth":0},"encoding":{"x":{"field":"x","type":"quantitative"},"y":{"field":"y","type":"quantitative"},"shape":{"field":"d","type":"nominal","scale":{"domain":["L","R","D"],"range":["M0,0L1,-0.25L1,0.25Z","M0,0L-1,-0.25L-1,0.25Z","M0,0L-0.25,-1L0.25,-1Z"]},"legend":null}}},
{"data":{"name":"elab"},"transform":[{"filter":"datum.p==3"}],"mark":{"type":"text","text":"E","fontSize":22,"align":"left","baseline":"alphabetic"},"encoding":{"x":{"field":"x","type":"quantitative"},"y":{"field":"y","type":"quantitative"}}},
{"data":{"name":"elab"},"transform":[{"filter":"datum.p==3"}],"mark":{"type":"text","fontSize":14,"align":"left","baseline":"alphabetic","dx":18,"dy":10},"encoding":{"x":{"field":"x","type":"quantitative"},"y":{"field":"y","type":"quantitative"},"text":{"field":"s"}}},
{"data":{"name":"txt"},"transform":[{"filter":"datum.p==3 && datum.k=='n'"}],"mark":{"type":"text","fontSize":25,"align":"center","baseline":"alphabetic"},"encoding":{"x":{"field":"x","type":"quantitative"},"y":{"field":"y","type":"quantitative"},"text":{"field":"t"}}},
{"data":{"name":"ttl"},"transform":[{"filter":"datum.p==3"}],"mark":{"type":"text","fontSize":34,"align":"left","baseline":"alphabetic"},"encoding":{"x":{"field":"x","type":"quantitative"},"y":{"field":"y","type":"quantitative"},"text":{"field":"a"}}},
{"data":{"name":"ttl"},"transform":[{"filter":"datum.p==3"}],"mark":{"type":"text","fontSize":22,"align":"left","baseline":"alphabetic","dx":44,"dy":10},"encoding":{"x":{"field":"x","type":"quantitative"},"y":{"field":"y","type":"quantitative"},"text":{"field":"s1"}}},
{"data":{"name":"ttl"},"transform":[{"filter":"datum.p==3"}],"mark":{"type":"text","fontSize":34,"align":"left","baseline":"alphabetic","dx":56.5},"encoding":{"x":{"field":"x","type":"quantitative"},"y":{"field":"y","type":"quantitative"},"text":{"field":"b"}}},
{"data":{"name":"ttl"},"transform":[{"filter":"datum.p==3"}],"mark":{"type":"text","fontSize":22,"align":"left","baseline":"alphabetic","dx":121,"dy":10},"encoding":{"x":{"field":"x","type":"quantitative"},"y":{"field":"y","type":"quantitative"},"text":{"field":"s2"}}},
{"data":{"name":"ttl"},"transform":[{"filter":"datum.p==3"}],"mark":{"type":"text","fontSize":34,"align":"left","baseline":"alphabetic","dx":133.5},"encoding":{"x":{"field":"x","type":"quantitative"},"y":{"field":"y","type":"quantitative"},"text":{"field":"c"}}},
{"data":{"name":"xt"},"mark":{"type":"text","text":"E-E","fontSize":39,"fontWeight":"bold","align":"right","baseline":"alphabetic"},"encoding":{"x":{"field":"x","type":"quantitative"},"y":{"field":"y","type":"quantitative"}}},
{"data":{"name":"xt"},"mark":{"type":"text","text":"F","fontSize":24,"fontWeight":"bold","align":"left","baseline":"alphabetic","dx":1,"dy":6},"encoding":{"x":{"field":"x","type":"quantitative"},"y":{"field":"y","type":"quantitative"}}},
{"data":{"name":"xt"},"mark":{"type":"text","text":"(eV)","fontSize":39,"fontWeight":"bold","align":"left","baseline":"alphabetic","dx":23},"encoding":{"x":{"field":"x","type":"quantitative"},"y":{"field":"y","type":"quantitative"}}}
]}
]
}
